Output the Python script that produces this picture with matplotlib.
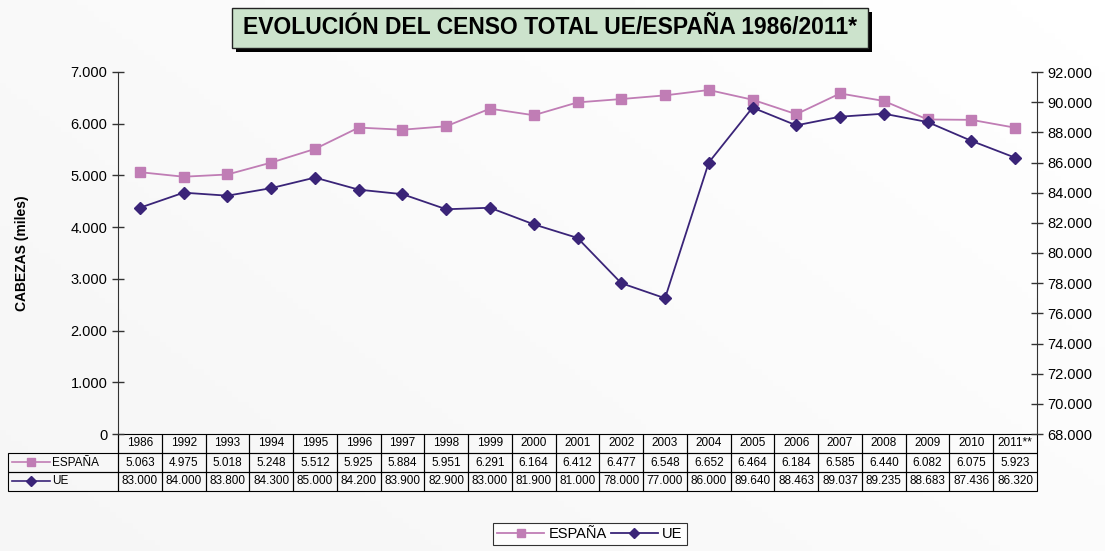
import numpy as np
import matplotlib.pyplot as plt
from matplotlib.ticker import FuncFormatter, MultipleLocator
from matplotlib.lines import Line2D

plt.rcParams['font.family'] = ['Liberation Sans', 'DejaVu Sans']

years = ['1986', '1992', '1993', '1994', '1995', '1996', '1997', '1998', '1999', '2000', '2001',
         '2002', '2003', '2004', '2005', '2006', '2007', '2008', '2009', '2010', '2011**']
espana = [5063, 4975, 5018, 5248, 5512, 5925, 5884, 5951, 6291, 6164, 6412,
          6477, 6548, 6652, 6464, 6184, 6585, 6440, 6082, 6075, 5923]
ue = [83000, 84000, 83800, 84300, 85000, 84200, 83900, 82900, 83000, 81900, 81000,
      78000, 77000, 86000, 89640, 88463, 89037, 89235, 88683, 87436, 86320]

c_esp = '#C07DB5'
c_ue = '#3A2478'


def miles(v, pos=None):
    if v == 0:
        return '0'
    return '{:,.0f}'.format(v).replace(',', '.')


def miles3(v):
    return '{:,.0f}'.format(v).replace(',', '.')


fig = plt.figure(figsize=(11.05, 5.51), dpi=100)

# soft diagonal background gradient
bg = fig.add_axes([0, 0, 1, 1], zorder=-10)
gx, gy = np.meshgrid(np.linspace(0, 1, 200), np.linspace(0, 1, 100))
grad = (gx * 0.6 + (1 - gy) * 0.4)
bg.imshow(grad, cmap='Greys_r', vmin=-12, vmax=1, aspect='auto', extent=[0, 1, 0, 1])
bg.axis('off')

ax = fig.add_axes([118 / 1105, 1 - 434 / 551, 919 / 1105, 362 / 551])
ax.patch.set_alpha(0)
ax2 = ax.twinx()

x = np.arange(len(years))
ax.plot(x, espana, color=c_esp, marker='s', markersize=7, linewidth=1.3, label='ESPAÑA', zorder=3)
ax2.plot(x, ue, color=c_ue, marker='D', markersize=6, linewidth=1.3, label='UE', zorder=3)

ax.set_xlim(-0.5, len(years) - 0.5)
ax.set_ylim(0, 7000)
ax2.set_ylim(68000, 92000)
ax.yaxis.set_major_locator(MultipleLocator(1000))
ax2.yaxis.set_major_locator(MultipleLocator(2000))
ax.yaxis.set_major_formatter(FuncFormatter(miles))
ax2.yaxis.set_major_formatter(FuncFormatter(miles))

for a in (ax, ax2):
    a.spines['top'].set_visible(False)
    a.spines['bottom'].set_visible(False)
    a.set_xticks([])
    a.tick_params(axis='y', direction='inout', length=8, width=1, labelsize=10.5, color='#333333')
    for s in ('left', 'right'):
        a.spines[s].set_color('#333333')
ax.spines['right'].set_visible(False)
ax2.spines['left'].set_visible(False)

ax.set_ylabel('CABEZAS (miles)', fontsize=10, fontweight='bold', labelpad=30)

# data table beneath the axes
lab_w = 110 / 919
col_w = (1.0) / len(years)
cells = [[''] + years,
         ['ESPAÑA'] + [miles3(v) for v in espana],
         ['UE'] + [miles3(v) for v in ue]]
tab = ax.table(cellText=cells, colWidths=[lab_w] + [col_w] * len(years),
               cellLoc='center', bbox=[-lab_w, -57 / 362, 1 + lab_w, 57 / 362])
tab.auto_set_font_size(False)
tab.set_fontsize(8.5)
for (r, c), cell in tab.get_celld().items():
    cell.set_linewidth(0.8)
    cell.set_facecolor('none')
    if c == 0:
        cell.get_text().set_ha('left')
        cell.PAD = 0.4
    if r == 0 and c == 0:
        cell.visible_edges = 'R'

# legend keys in the table label column
kx = [-lab_w + 0.004, -lab_w + 0.025, -lab_w + 0.046]
ax.add_line(Line2D(kx, [-28 / 362] * 3, transform=ax.transAxes,
                   color=c_esp, marker='s', markersize=6, markevery=[1], clip_on=False, linewidth=1.2))
ax.add_line(Line2D(kx, [-47 / 362] * 3, transform=ax.transAxes,
                   color=c_ue, marker='D', markersize=5, markevery=[1], clip_on=False, linewidth=1.2))

# bottom legend
h1, l1 = ax.get_legend_handles_labels()
h2, l2 = ax2.get_legend_handles_labels()
leg = fig.legend(h1 + h2, l1 + l2, loc='center', bbox_to_anchor=(590 / 1105, 1 - 534 / 551), ncol=2,
                 fontsize=10.5, frameon=True, fancybox=False, edgecolor='black', handlelength=3.2,
                 columnspacing=0.3, handletextpad=0.3, borderpad=0.3, markerscale=0.8)
leg.get_frame().set_linewidth(0.8)

# title with shadow box
shadow = plt.Rectangle((236 / 1105, 1 - 52 / 551), 636 / 1105, 40 / 551, transform=fig.transFigure,
                       facecolor='black', edgecolor='none', zorder=1)
box = plt.Rectangle((232 / 1105, 1 - 48 / 551), 636 / 1105, 40 / 551, transform=fig.transFigure,
                    facecolor='#CCE3CC', edgecolor='#222222', linewidth=1, zorder=2)
fig.patches.extend([shadow, box])
fig.text(550 / 1105, 1 - 28 / 551, 'EVOLUCIÓN DEL CENSO TOTAL UE/ESPAÑA 1986/2011*',
         ha='center', va='center', fontsize=16.5, fontweight='bold', zorder=3)

fig.savefig('out.png', dpi=100)
